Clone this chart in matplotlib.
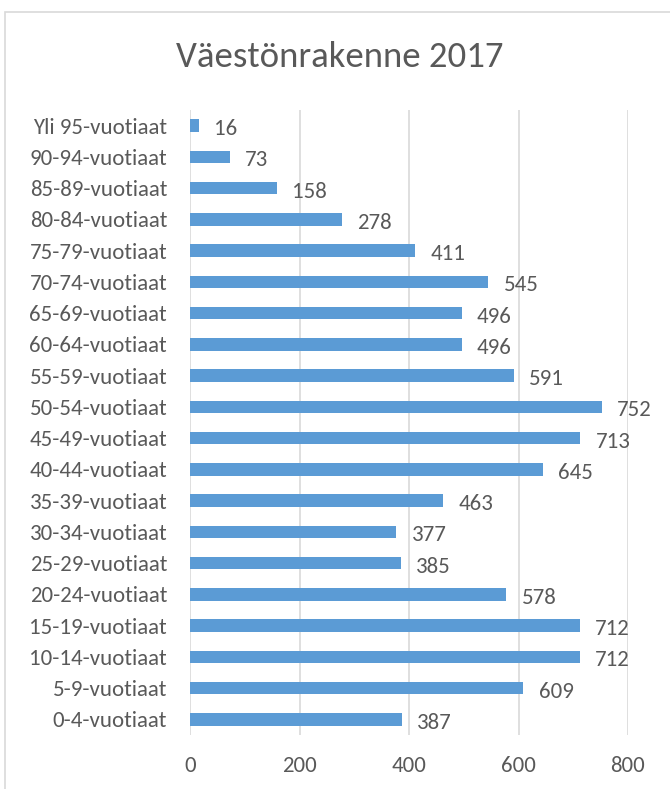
import matplotlib.pyplot as plt
import numpy as np

ages = ["0-4-vuotiaat", "5-9-vuotiaat", "10-14-vuotiaat", "15-19-vuotiaat",
        "20-24-vuotiaat", "25-29-vuotiaat", "30-34-vuotiaat", "35-39-vuotiaat",
        "40-44-vuotiaat", "45-49-vuotiaat", "50-54-vuotiaat", "55-59-vuotiaat",
        "60-64-vuotiaat", "65-69-vuotiaat", "70-74-vuotiaat", "75-79-vuotiaat",
        "80-84-vuotiaat", "85-89-vuotiaat", "90-94-vuotiaat", "Yli 95-vuotiaat"]
counts = [387, 609, 712, 712, 578, 385, 377, 463, 645, 713,
          752, 591, 496, 496, 545, 411, 278, 158, 73, 16]
xticks = [0, 200, 400, 600, 800]

plt.rcParams['font.family'] = ['Carlito', 'Lato', 'DejaVu Sans']
txt = "#595959"

fig = plt.figure(figsize=(6.7, 7.89), dpi=100)
# chart border
fig.patches.append(plt.Rectangle((5 / 670, -0.01), 1.0, 1 - 12 / 789 + 0.01,
                                 transform=fig.transFigure, fill=False,
                                 edgecolor="#D9D9D9", linewidth=1.2))

ax = fig.add_axes([190 / 670, 1 - 735 / 789, (628 - 190) / 670, (735 - 110) / 789])
y = np.arange(len(ages))
ax.barh(y, counts, height=0.4, color="#5B9BD5", zorder=3)
for yi, v in zip(y, counts):
    ax.annotate(str(v), (v, yi), xytext=(11, -2.5), textcoords="offset points",
                va="center", ha="left", fontsize=16.5, color=txt)

ax.set_xlim(0, 800)
ax.set_ylim(-0.5, len(ages) - 0.5)
ax.set_xticks(xticks)
ax.set_xticklabels([str(t) for t in xticks], fontsize=16.5, color=txt)
ax.set_yticks(y)
ax.set_yticklabels(ages, fontsize=16.5, color=txt)
ax.tick_params(length=0)
ax.tick_params(axis="x", pad=15)
ax.tick_params(axis="y", pad=16.5)
ax.grid(axis="x", color="#D9D9D9", linewidth=1.2, zorder=0)
for s in ax.spines.values():
    s.set_visible(False)

fig.text(340 / 670, 1 - 57 / 789, "Väestönrakenne 2017", ha="center", va="center",
         fontsize=26.5, color=txt)

fig.savefig("out.png", dpi=100)
